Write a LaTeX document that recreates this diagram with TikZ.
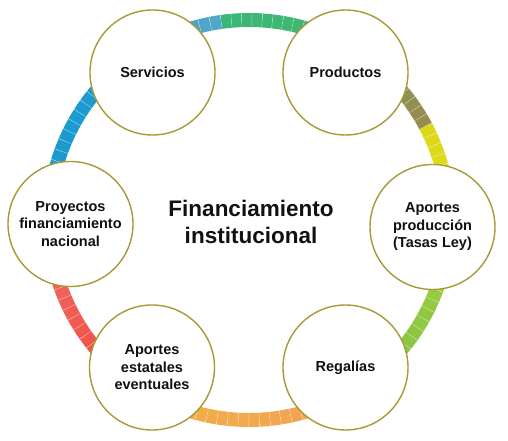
\documentclass[tikz,border=0pt]{standalone}
\usepackage{fontspec}
\setmainfont{Liberation Sans}
\usepackage{xcolor}
\usepackage{tikz}
\definecolor{finolive}{HTML}{A89A38}
\definecolor{finink}{HTML}{111111}
\definecolor{fingold}{HTML}{EEB444}
\definecolor{finorange}{HTML}{F59D58}
\definecolor{fingreen}{HTML}{7BC143}
\definecolor{finlime}{HTML}{A6CF3E}
\definecolor{finyellowA}{HTML}{E4E022}
\definecolor{finyellowB}{HTML}{DCD816}
\definecolor{finbrown}{HTML}{9A8B4E}
\definecolor{finsage}{HTML}{7A9A5E}
\definecolor{finemerA}{HTML}{40B870}
\definecolor{finemerB}{HTML}{3CB676}
\definecolor{finsteelA}{HTML}{52A6C6}
\definecolor{finsteelB}{HTML}{4AA2C9}
\definecolor{finblueA}{HTML}{1E9CD0}
\definecolor{finblueB}{HTML}{1A99CF}
\definecolor{fincoral}{HTML}{F26E62}
\definecolor{finred}{HTML}{EE4A42}

\begin{document}
\begin{tikzpicture}[x=1pt,y=1pt,
    fuente/.style={circle,draw=finolive,line width=1.4pt,fill=white,minimum size=125pt,inner sep=0pt,
      align=center,text=finink,font=\fontsize{14.5}{17.5}\selectfont\bfseries}]
    \useasboundingbox (0,0) rectangle (508,441);
    \coordinate (C) at (249,221);
    % segmented ring behind the circles
    \foreach \a/\b/\ca/\cb in {-123.3/-56.8/fingold/finorange, -56.8/-2.2/fingreen/finlime,
        -2.2/28/finyellowA/finyellowB, 28/56.8/finbrown/finsage, 56.8/98/finemerA/finemerB,
        98/123.2/finsteelA/finsteelB, 123.2/181.3/finblueA/finblueB, 181.3/236.7/fincoral/finred}{
      \pgfmathtruncatemacro\n{round((\b-\a)/3)}
      \foreach \i in {1,...,\n}{
        \pgfmathsetmacro\sa{\a+(\i-1)*(\b-\a)/\n}
        \pgfmathsetmacro\sb{\a+\i*(\b-\a)/\n}
        \pgfmathtruncatemacro\p{100*(\i-0.5)/\n}
        \colorlet{segcol}{\cb!\p!\ca}
        \draw[segcol,line width=14pt] (C) ++(\sa:200pt) arc[start angle=\sa,end angle=\sb,radius=200pt];
        \draw[white,line width=0.35pt,opacity=0.55] (C) ++(\sa:193pt) -- ++(\sa:14pt);
      }
    }
    \node[fuente] (serv) at (152.5,368.5) {Servicios};
    \node[fuente] (prod) at (345.5,368.5) {Productos};
    \node[fuente] (tasas) at (432.5,214) {Aportes\\producción\\(Tasas Ley)};
    \node[fuente] (regal) at (345.5,73.5) {Regalías};
    \node[fuente] (estat) at (152,73.5) {Aportes\\estatales\\eventuales};
    \node[fuente] (proy) at (70.5,217) {Proyectos\\financiamiento\\nacional};
    \node[align=center,text=finink,font=\fontsize{22.5}{27.5}\selectfont\bfseries] (titulo) at (251,219) {Financiamiento\\institucional};
\end{tikzpicture}
\end{document}
